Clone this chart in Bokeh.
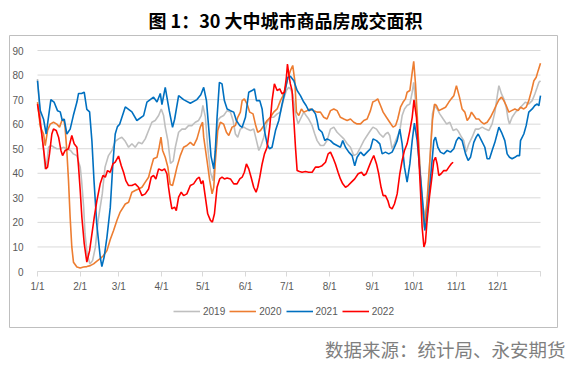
from bokeh.plotting import figure
from bokeh.models import (Range1d, FixedTicker, Legend, LegendItem, Title,
                          ColumnDataSource)
from bokeh.embed import file_html
from bokeh.resources import INLINE

# ---------------- data (day of year, value) ----------------
title_text = "图 1：30 大中城市商品房成交面积"
source_text = "数据来源：统计局、永安期货"

month_ticks = [0, 31, 59, 90, 120, 151, 181, 212, 243, 273, 304, 334, 365]
month_labels = ["1/1", "2/1", "3/1", "4/1", "5/1", "6/1", "7/1", "8/1",
                "9/1", "10/1", "11/1", "12/1", ""]
y_ticks = [0, 10, 20, 30, 40, 50, 60, 70, 80, 90]

series_names = ["2019", "2020", "2021", "2022"]
series_colors = ["#BFBFBF", "#ED7D31", "#0070C0", "#FF0000"]

days_2019 = [0, 1.5, 3, 4.5, 5.5, 7, 8, 10, 12, 14, 16.5, 19, 21, 24, 26, 28.5,
             31, 32, 33.5, 34.5, 36, 38, 40, 42, 44, 47, 49, 51.5, 54, 56.4,
             58.8, 61.2, 63.7, 66.1, 68.5, 70.9, 73.3, 75.8, 78.2, 80.6, 83,
             85.4, 87.9, 89.8, 91.5, 92.7, 94.6, 96.5, 98.5, 100, 102.4, 104.8,
             107.2, 109.6, 112, 114.5, 116.9, 118.8, 120, 121.8, 123.5, 125.5,
             127.4, 129.1, 130.8, 132.7, 135.1, 137.6, 140, 141.9, 143.6, 145.3,
             147.2, 149.7, 152.1, 154.5, 156.9, 158.9, 160.6, 162.2, 164.2,
             166.6, 169, 171.4, 173.9, 176.3, 178.7, 180.6, 182.3, 183.5, 185.2,
             187.2, 189.1, 190.8, 193.2, 194.9, 196.8, 199.3, 201.2, 202.9,
             205.3, 207.7, 210.1, 212.6, 215, 217.4, 219.8, 222.3, 224.7, 227.1,
             229.5, 231.9, 234.4, 236.8, 239.2, 241.6, 243.4, 246, 248.4, 250.8,
             252.5, 254.2, 255.6, 257.3, 259, 261, 262.9, 264.6, 266.3, 268.2,
             270.2, 271.9, 273, 274.3, 276, 277.9, 279.8, 281.5, 283.2, 285.2,
             286.6, 288.1, 290, 291.9, 294.4, 296.8, 299.2, 301.6, 304, 305.5,
             307, 309.3, 311, 313, 315.4, 317.8, 320.2, 322.7, 325.1, 327.5,
             329.9, 331.9, 333.5, 334.8, 336.7, 338.4, 340.1, 341.5, 342.5,
             344.4, 346.9, 349.3, 351.7, 354.1, 356.5, 359, 360.9, 362.6, 363.8,
             365]
vals_2019 = [78.4, 66.9, 56, 49.3, 41.7, 45.2, 50.6, 51.3, 50.6, 50, 50, 50.6,
             50, 49.3, 47.9, 47.2, 42.5, 37, 26.2, 15.3, 7.2, 3.1, 4.5, 9.9,
             20.8, 31.6, 42.5, 47.2, 49.3, 53, 54, 54.7, 53, 50.6, 52, 50.6,
             52.6, 52, 54, 57.4, 60.8, 61.5, 63.5, 66.2, 63.5, 58.8, 53.3, 44,
             45, 50.6, 56.7, 58, 58, 59.4, 59.4, 60.8, 61.5, 63.5, 67.6, 63,
             50.6, 40.3, 37, 49.3, 61.5, 62.8, 63.5, 65.5, 64.9, 61.5, 56, 54.7,
             58, 58.8, 58, 57.4, 58, 53.3, 49.3, 51.3, 54.7, 60.8, 62.8, 62.8,
             64.2, 64.9, 70.3, 73.7, 75, 74.4, 72.3, 64.2, 60.1, 62.1, 64.9,
             63.5, 62.1, 59.4, 56, 53.3, 51.3, 51.3, 53.3, 58, 58.8, 56.7, 55.4,
             54, 52, 50.6, 47.2, 47.9, 50.6, 53.3, 55.4, 57.4, 58.8, 58, 56,
             54.7, 56, 56.7, 55.4, 49.9, 52, 54.7, 57.4, 63.5, 66.2, 67.6, 68.2,
             73, 77, 69.6, 57.4, 39.8, 26.2, 22.1, 30.3, 49.3, 64.2, 67.6, 66.2,
             64.2, 62.1, 60.1, 60.8, 57.4, 58, 57, 55.4, 53.3, 48.6, 52, 54.7,
             58, 58, 58.8, 58, 57.4, 60.1, 64.9, 71, 75.7, 72.3, 70.3, 66.9,
             62.1, 60.1, 62.8, 64.9, 66.2, 67.6, 69, 68.2, 69.6, 72.3, 75, 77,
             77.7]

days_2020 = [0, 2, 4.4, 5.6, 7.3, 9.2, 11.6, 14, 16, 17.7, 19, 20, 21.3, 22.5,
             23.7, 24.9, 26.1, 28.6, 31, 33.4, 35.8, 38.3, 40.7, 43.1, 45.5,
             47.9, 50.4, 52.8, 55.2, 57.6, 60, 63.7, 66.1, 68.5, 70.9, 73.3,
             75.8, 78.2, 80.6, 82.5, 84.2, 86.7, 88.3, 89.6, 90.8, 92.7, 94.6,
             96.3, 98, 99.5, 101.2, 103.6, 106, 108.4, 110.9, 113.3, 115.7,
             118.1, 119.8, 120.6, 123, 125, 126.7, 127.9, 129.1, 130.8, 132.7,
             135.1, 137.1, 138.8, 141.2, 143.6, 145.3, 147.2, 148.5, 150.1,
             152.1, 154, 156.4, 158.1, 159.8, 161.8, 164.2, 166.6, 169, 171.4,
             173.9, 176.3, 178.2, 179.9, 181.6, 183.5, 185.2, 186.7, 187.9,
             189.6, 191.5, 193.2, 195.6, 198, 200.5, 202.9, 205.3, 207.7, 210.1,
             212.6, 215, 217.4, 219.8, 222.3, 224.7, 227.1, 229.5, 231.9, 234.4,
             236.8, 239.2, 241.6, 243.3, 245.3, 246.9, 248.9, 250.8, 253.2,
             255.6, 258, 259.8, 261.4, 263.4, 265.3, 267, 268.2, 270.2, 271.9,
             273, 274.3, 275.5, 277.4, 279.1, 280.8, 282.7, 284.7, 286.6, 288.1,
             289.5, 291.2, 293.6, 296.1, 298.5, 300.2, 302.1, 304, 306.2, 308.1,
             310.1, 311.8, 313.5, 314.9, 316.6, 318.3, 320.2, 322.2, 323.9,
             326.3, 328.7, 331.1, 332.8, 334.8, 336.7, 338.4, 340.1, 342, 344,
             346.4, 348.8, 350.5, 352.9, 354.6, 356.5, 358.5, 360.2, 361.9,
             363.3, 365]
vals_2020 = [69, 59, 56, 51.3, 57.4, 60, 60.8, 60, 58.8, 61.5, 62, 58.8, 49,
             37, 22, 10, 3.8, 1.8, 1.4, 1.8, 2, 2.4, 3.1, 4.2, 5.2, 6.5, 8.5,
             13, 16.7, 20.8, 24.2, 27.5, 28.2, 32.3, 33, 33.6, 34.3, 36.4, 38.4,
             42.5, 45.9, 46.5, 50.6, 54.7, 49.3, 46.5, 42.5, 35.4, 35, 38.4,
             42.5, 47.2, 50.6, 51.3, 52.6, 51.3, 54, 58.8, 60.8, 54.7, 45.2, 37,
             31.6, 34.3, 45.2, 57.4, 60.8, 60, 56.7, 55.4, 58.8, 59.4, 62.8,
             64.9, 69.6, 70.3, 68.2, 64.9, 64.2, 60, 56.7, 57.4, 59.4, 61.5,
             62.8, 64.9, 66.2, 69.6, 71.6, 75, 78.5, 81.8, 83.9, 77.7, 64.9,
             63.5, 66.2, 64.9, 65.5, 66.2, 65.5, 64.9, 64.9, 62.8, 62.1, 65.5,
             66.2, 65.5, 62.8, 62.1, 61.5, 62.1, 60.8, 60.1, 60.1, 61.5, 62.1,
             65.5, 69, 69.6, 70.3, 67.6, 64.9, 62.8, 60.8, 58.8, 59.4, 62.1,
             66.9, 69, 70.3, 73, 73.7, 81.1, 85.6, 76.4, 64.2, 42.5, 26.2, 18,
             28.9, 45.2, 61.5, 68.2, 67.6, 65.5, 66.2, 66.9, 69, 70.3, 71.6,
             75.7, 71, 66.2, 64.9, 61.5, 62.8, 64.9, 63.5, 62.1, 62.1, 60.8,
             60.1, 60.8, 62.8, 65.5, 67.6, 69.9, 71, 69.6, 67.6, 64.9, 65.5,
             66.2, 65.5, 66.9, 66.2, 66.9, 69.6, 73.7, 77.7, 79.1, 81.8, 84.8]

days_2021 = [0, 2, 4.4, 6.3, 8, 9.7, 12, 14.5, 16.5, 18, 19.4, 21.3, 23.7, 26,
             28.6, 29.8, 32, 33.9, 35.8, 37.8, 39.5, 41, 43, 45.5, 46.7, 48.4,
             50.4, 52.8, 54.7, 56.4, 58, 59.6, 63.7, 68.5, 72.1, 77, 79.4, 84.2,
             86.7, 89.1, 90.3, 92.7, 95.6, 98, 99.5, 102.4, 106, 110.9, 115.7,
             118.5, 120.6, 122.6, 124.2, 125.9, 127.9, 129, 130.3, 132, 133.9,
             135.6, 137.6, 140, 142.4, 144.3, 146.8, 148.5, 150.9, 153.3, 155.7,
             157.4, 158.9, 161.3, 163, 164.7, 166.6, 168.3, 170.2, 172.7, 175.1,
             177.5, 179.2, 181.6, 183.5, 186, 188.4, 190.8, 193.2, 194.9, 196.8,
             199.3, 201.7, 202.9, 204.1, 206.5, 208.5, 210.1, 212.6, 215, 217.4,
             219.8, 221.5, 223.5, 225.9, 228.3, 230.2, 231.9, 234.4, 236.8,
             239.2, 241.6, 243.5, 246, 248.4, 250.1, 252.5, 254.9, 257.3, 259,
             261, 262.9, 264.6, 266.3, 268.2, 270.2, 271.9, 273.5, 275.5, 277.9,
             279.8, 281, 282.3, 284, 285.9, 287.6, 288.8, 290.5, 292.4, 294.8,
             297.3, 299.7, 302.1, 304, 305.7, 308.1, 310.6, 312.5, 314.2, 316.6,
             318.3, 319.8, 322.2, 324.6, 326.3, 328, 329.9, 331.9, 333.5, 334.8,
             336.7, 339.1, 340.8, 342.5, 344.4, 346.4, 348.1, 349.8, 350.5,
             352.9, 354.6, 356.5, 359, 360.9, 362.6, 363.8, 365]
vals_2021 = [77.7, 65.5, 62, 56, 63, 70, 69, 65.5, 65, 61.5, 62, 56, 58, 63.5,
             69, 72.5, 72.5, 73, 66, 65, 53, 37, 19.4, 6, 2, 6, 14, 26, 44, 56,
             59, 60, 67, 65, 61.5, 63.5, 69, 71, 69, 72.5, 68, 75, 65.5, 58.7,
             62, 71.6, 70, 68.5, 70, 72, 75, 69.6, 58.7, 47, 41.8, 49, 62.8, 77,
             76.4, 69.6, 66.2, 65.5, 64.9, 61.5, 59.4, 58.7, 62.8, 73, 73.7,
             74.4, 69.6, 69.6, 66.2, 57.4, 52, 50, 50.6, 57.4, 61.5, 68.2, 72.3,
             79, 79.5, 77.7, 73.7, 71.6, 69, 67.6, 65.5, 66.2, 64.2, 61.5, 58,
             56.7, 53.3, 54, 53.3, 52, 51.3, 50.6, 53.3, 50.6, 48.6, 47.2, 43,
             46.5, 48.6, 47.2, 48.6, 50, 54, 53.3, 52, 47.9, 48.6, 47.9, 48.6,
             50.6, 53.3, 58, 52, 42.5, 36.4, 43.8, 53.3, 60.4, 53.3, 38.4, 26.2,
             16.7, 20.8, 30.3, 42.5, 53.3, 54.7, 50.6, 48.6, 47.9, 49.3, 48.6,
             50, 53.3, 54.7, 53.3, 47.9, 45.2, 46.5, 52.6, 54.7, 56, 53.3, 50.6,
             45.9, 45.9, 49.3, 52.6, 56, 58.8, 56.7, 53.3, 47.9, 46.5, 45.9,
             46.5, 47.2, 47.2, 53.3, 56, 59.4, 64.9, 66.2, 67.6, 68.2, 67.5,
             71.6]

days_2022 = [0, 1.5, 3.1, 4.8, 6, 7.3, 8.7, 10.4, 11.6, 13.6, 15.3, 17, 18.2,
             20.1, 22.5, 24.9, 26.6, 28.6, 29.8, 31, 32.2, 33.9, 35.8, 37.8,
             39.5, 41.2, 43.1, 45.5, 47.5, 49.2, 50.8, 52.8, 54.7, 56.4, 58.8,
             60.8, 62.5, 64.1, 66.1, 68.5, 70.9, 73.3, 75.8, 78.2, 80.6, 82.5,
             84.2, 85.9, 87.9, 90.3, 92.2, 93.9, 95.1, 96.3, 97.5, 99.5, 100.7,
             102.4, 104.3, 106, 108.4, 110.9, 113.3, 115.7, 117.4, 118.8, 120.1,
             121.8, 123.5, 125.5, 126.9, 128.4, 130.3, 132.2, 133.9, 135.6,
             137.6, 140, 142.4, 144.8, 146.8, 148.5, 150.1, 151.6, 153.3, 155,
             156.9, 158.6, 159.8, 161.3, 163, 164.7, 166.6, 168.5, 170.2, 171.9,
             173.9, 175.8, 177.5, 179.2, 180.6, 181.4, 182.3, 183.5, 184.7,
             185.9, 187.2, 188.4, 190.1, 192, 194.4, 196.8, 199.3, 201.7, 204.1,
             206.5, 209, 210.9, 212.6, 214.3, 216.2, 218.1, 219.8, 221.5, 223.5,
             225.4, 227.8, 230.2, 232.7, 235.1, 236.8, 238.5, 240.4, 242.3, 244,
             246, 247.6, 249.3, 250.8, 252.5, 254.2, 255.6, 257.3, 259, 261,
             262.9, 264.6, 266.3, 268.2, 270.2, 271.9, 273.2, 275, 276.7, 277.9,
             279.1, 280.4, 281.5, 282.7, 284.4, 285.9, 287.6, 288.8, 290, 291.2,
             292.9, 294.8, 296.8, 298.5, 300.2, 301.6]
vals_2022 = [68.2, 62.8, 56, 47.9, 41.8, 42.5, 47.9, 56, 58, 57.4, 54.7, 49.3,
             47.2, 49.3, 50, 55.4, 52, 50.6, 42.5, 33, 22.1, 11.4, 3.8, 8.5,
             15.3, 22.1, 28.9, 35.7, 39.1, 38.4, 41.1, 40.4, 43.8, 44.5, 47,
             43.1, 40.3, 37, 35, 35, 35.7, 34.3, 30.9, 31.6, 33.6, 38.4, 39.1,
             37.7, 41.8, 41.1, 41.8, 39.8, 34.3, 29.6, 25.5, 26.2, 24.8, 30.3,
             32.3, 30.9, 31.6, 35, 35.7, 37.7, 38.4, 35.7, 37, 30.3, 23.5, 20.8,
             20.1, 23.5, 34.3, 37.7, 38.4, 37.7, 38.1, 37.7, 35.7, 35.7, 37.7,
             38.4, 40.4, 43.8, 41.8, 38.4, 34.3, 32.3, 34.3, 38.4, 43.8, 47.9,
             50.6, 58.8, 69.6, 76.4, 73.7, 74.4, 72.3, 73, 79.1, 84.5, 80.5,
             76.4, 73.7, 62.8, 50.6, 41.1, 40.7, 40.4, 40.7, 40.4, 40.4, 42.5,
             42.5, 43.1, 44.5, 47.9, 48.6, 46.5, 43.8, 40.4, 37.7, 35.7, 34.3,
             35, 36.4, 37.7, 39.8, 40.4, 39.1, 39.8, 42.5, 45.2, 47.2, 43.8,
             39.8, 34.3, 30.9, 30.9, 28.9, 26.2, 25.5, 27.5, 31.6, 39.8, 45.2,
             49.3, 52, 57.4, 62.8, 69.9, 62.8, 46.5, 33, 18, 10, 11.9, 20.8,
             30.3, 37, 45.2, 46.5, 43.8, 39.1, 39.8, 41.1, 41.1, 42.5, 43.8,
             44.5]

all_days = [days_2019, days_2020, days_2021, days_2022]
all_vals = [vals_2019, vals_2020, vals_2021, vals_2022]

# ---------------- layout (pixels) ----------------
W, H = 574, 372
box_l, box_r, box_t, box_b = 9, 557, 35, 327      # outer chart border = frame
data_l, data_r, data_t, data_b = 37, 540, 50, 271  # where day 0..365 / 0..90 lie
x_lo, x_hi = month_ticks[0], month_ticks[-1]
y_lo, y_hi = y_ticks[0], y_ticks[-1]
kx = (data_r - data_l) / (x_hi - x_lo)
ky = (data_b - data_t) / (y_hi - y_lo)
x_range = Range1d(x_lo - (data_l - box_l) / kx, x_hi + (box_r - data_r) / kx)
y_range = Range1d(y_lo - (box_b - data_b) / ky, y_hi + (data_t - box_t) / ky)

p = figure(width=W, height=H, output_backend="svg", toolbar_location=None,
           x_range=x_range, y_range=y_range,
           min_border_left=box_l, min_border_right=W - box_r,
           min_border_top=box_t, min_border_bottom=H - box_b)
p.outline_line_color = "#BFBFBF"
p.outline_line_width = 1
p.background_fill_color = "white"
p.border_fill_color = "white"
p.xgrid.visible = False
p.ygrid.visible = False

# horizontal gridlines spanning the year only
p.segment(x0=[x_lo] * len(y_ticks), x1=[x_hi] * len(y_ticks),
          y0=y_ticks, y1=y_ticks, line_color="#D9D9D9", line_width=1)

# axes drawn at the data origin
p.yaxis.fixed_location = x_lo
p.yaxis.bounds = (y_lo, y_hi)
p.yaxis.ticker = FixedTicker(ticks=y_ticks)
p.yaxis.axis_line_color = None
p.yaxis.major_tick_line_color = None
p.yaxis.minor_tick_line_color = None
p.yaxis.major_label_standoff = 8
p.yaxis.major_label_text_font = "Liberation Sans"
p.yaxis.major_label_text_font_size = "10px"
p.yaxis.major_label_text_color = "#595959"

p.xaxis.fixed_location = y_lo
p.xaxis.bounds = (x_lo, x_hi)
p.xaxis.ticker = FixedTicker(ticks=month_ticks)
p.xaxis.major_label_overrides = {t: l for t, l in zip(month_ticks, month_labels)}
p.xaxis.axis_line_color = "#D9D9D9"
p.xaxis.major_tick_line_color = "#D9D9D9"
p.xaxis.major_tick_in = 0
p.xaxis.major_tick_out = 5
p.xaxis.minor_tick_line_color = None
p.xaxis.major_label_standoff = 4
p.xaxis.major_label_text_font = "Liberation Sans"
p.xaxis.major_label_text_font_size = "10px"
p.xaxis.major_label_text_color = "#595959"

items = []
for name, color, d, v in zip(series_names, series_colors, all_days, all_vals):
    src = ColumnDataSource(data=dict(x=d, y=v))
    r = p.line("x", "y", source=src, line_color=color, line_width=1.6)
    items.append(LegendItem(label=name, renderers=[r]))

legend = Legend(items=items, orientation="horizontal", location=(164, 10),
                padding=0, margin=0, spacing=4, glyph_width=27,
                glyph_height=12, label_height=12, label_standoff=3,
                label_text_font="Liberation Sans",
                label_text_font_size="10px", label_text_color="#595959",
                border_line_color=None, background_fill_alpha=0)
p.add_layout(legend)

p.add_layout(Title(text=title_text, align="left", offset=139, standoff=5,
                   text_font="Noto Sans CJK SC", text_font_style="bold",
                   text_font_size="18px", text_color="#000000"), "above")
p.add_layout(Title(text=source_text, align="right", offset=-8, standoff=13,
                   text_font="Noto Sans CJK SC", text_font_style="normal",
                   text_font_size="18.5px", text_color="#7F7F7F"), "below")

open("out.html", "w").write(file_html(p, INLINE))
